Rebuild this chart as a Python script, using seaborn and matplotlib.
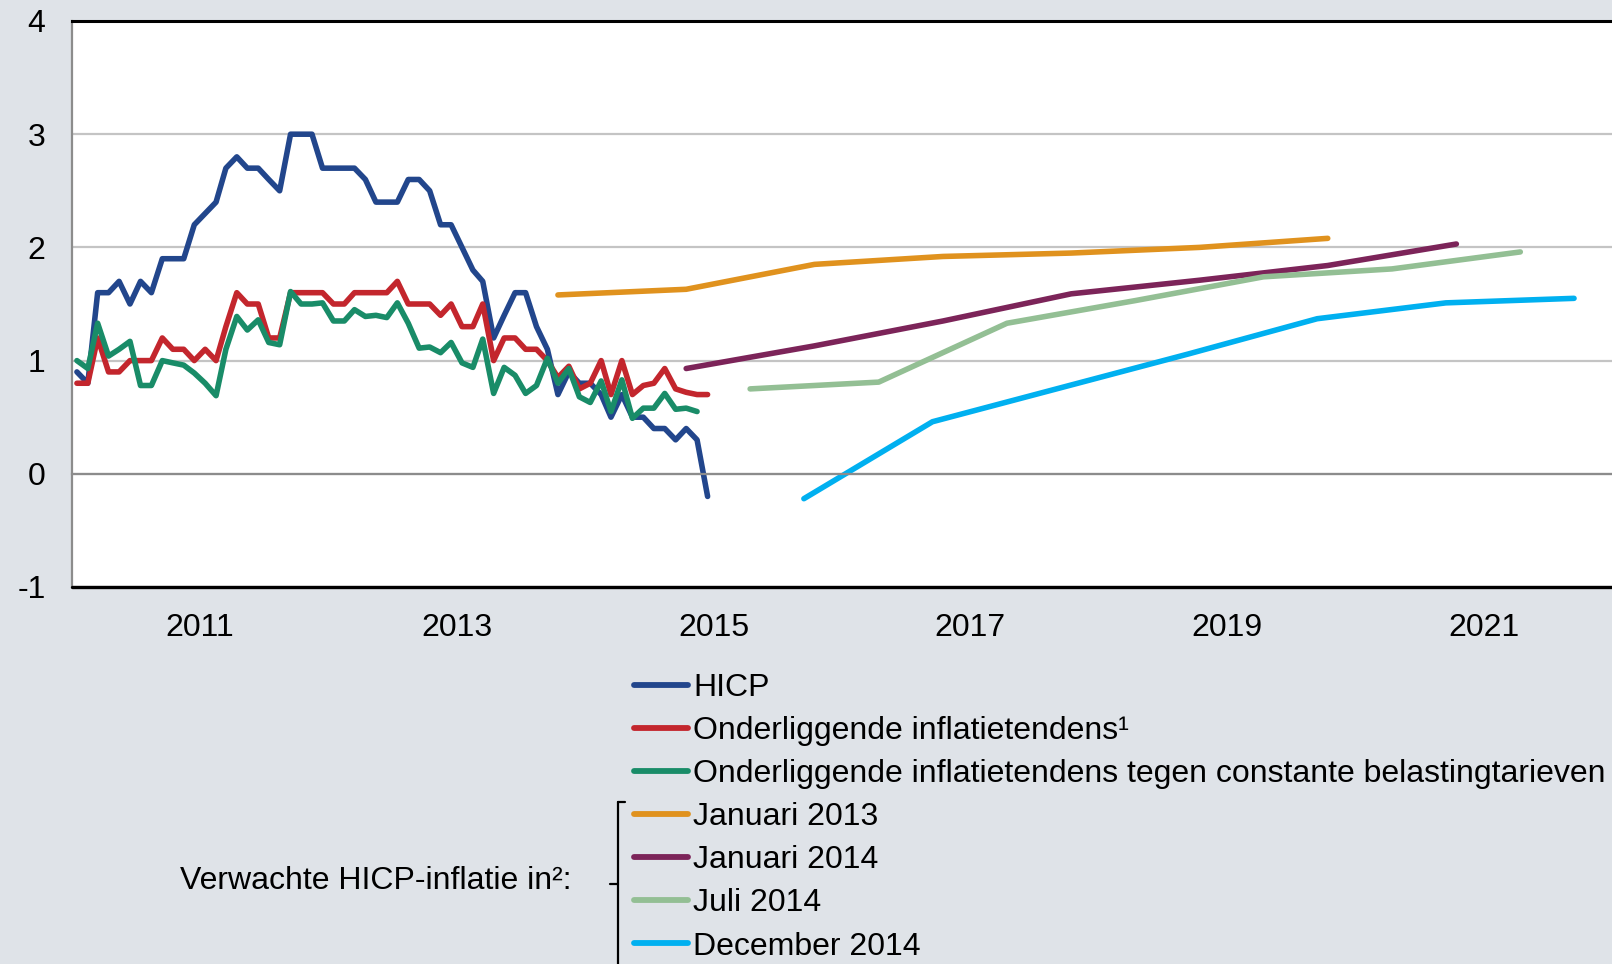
import numpy as np
import pandas as pd
import matplotlib
matplotlib.use("Agg")
import matplotlib.pyplot as plt
import matplotlib.dates as mdates
from matplotlib.lines import Line2D
import seaborn as sns

# ---------------- data ----------------
obs_start, obs_end = "2010-01", "2014-12"

hicp = [0.9, 0.8, 1.6, 1.6, 1.7, 1.5, 1.7, 1.6, 1.9, 1.9, 1.9, 2.2,
        2.3, 2.4, 2.7, 2.8, 2.7, 2.7, 2.6, 2.5, 3.0, 3.0, 3.0, 2.7,
        2.7, 2.7, 2.7, 2.6, 2.4, 2.4, 2.4, 2.6, 2.6, 2.5, 2.2, 2.2,
        2.0, 1.8, 1.7, 1.2, 1.4, 1.6, 1.6, 1.3, 1.1, 0.7, 0.9, 0.8,
        0.8, 0.7, 0.5, 0.7, 0.5, 0.5, 0.4, 0.4, 0.3, 0.4, 0.3, -0.2]

core = [0.8, 0.8, 1.2, 0.9, 0.9, 1.0, 1.0, 1.0, 1.2, 1.1, 1.1, 1.0,
        1.1, 1.0, 1.3, 1.6, 1.5, 1.5, 1.2, 1.2, 1.6, 1.6, 1.6, 1.6,
        1.5, 1.5, 1.6, 1.6, 1.6, 1.6, 1.7, 1.5, 1.5, 1.5, 1.4, 1.5,
        1.3, 1.3, 1.5, 1.0, 1.2, 1.2, 1.1, 1.1, 1.0, 0.85, 0.95, 0.75,
        0.8, 1.0, 0.7, 1.0, 0.7, 0.78, 0.8, 0.93, 0.75, 0.72, 0.7, 0.7]

core_tax = [1.0, 0.93, 1.33, 1.04, 1.1, 1.17, 0.78, 0.78, 1.0, 0.98, 0.96, 0.89,
            0.8, 0.69, 1.1, 1.39, 1.27, 1.36, 1.16, 1.14, 1.61, 1.5, 1.5, 1.51,
            1.35, 1.35, 1.45, 1.39, 1.4, 1.38, 1.51, 1.33, 1.11, 1.12, 1.07, 1.16,
            0.98, 0.94, 1.19, 0.71, 0.94, 0.87, 0.71, 0.78, 1.02, 0.8, 0.93, 0.68,
            0.63, 0.82, 0.55, 0.83, 0.49, 0.58, 0.58, 0.71, 0.57, 0.58, 0.55]

jan13_dates = ["2013-10-15", "2014-10-15", "2015-10-15", "2016-10-15", "2017-10-15", "2018-10-15", "2019-10-15"]
jan13 = [1.58, 1.63, 1.85, 1.92, 1.95, 2.0, 2.08]

jan14_dates = ["2014-10-15", "2015-10-15", "2016-10-15", "2017-10-15", "2018-10-15", "2019-10-15", "2020-10-15"]
jan14 = [0.93, 1.13, 1.35, 1.59, 1.71, 1.84, 2.03]

jul14_dates = ["2015-04-15", "2016-04-15", "2017-04-15", "2018-04-15", "2019-04-15", "2020-04-15", "2021-04-15"]
jul14 = [0.75, 0.81, 1.33, 1.53, 1.74, 1.81, 1.96]

dec14_dates = ["2015-09-15", "2016-09-15", "2017-09-15", "2018-09-15", "2019-09-15", "2020-09-15", "2021-09-15"]
dec14 = [-0.22, 0.46, 0.76, 1.06, 1.37, 1.51, 1.55]

names = ["HICP",
         "Onderliggende inflatietendens\u00b9",
         "Onderliggende inflatietendens tegen constante belastingtarieven",
         "Januari 2013", "Januari 2014", "Juli 2014", "December 2014"]
colors = ["#22468c", "#c3262d", "#198c68", "#e0921e", "#7c2459", "#93bf94", "#00b0f0"]

x_label_years = [2011, 2013, 2015, 2017, 2019, 2021]
y_ticks = [-1, 0, 1, 2, 3, 4]
bracket_text = "Verwachte HICP-inflatie in\u00b2:"

# ---------------- build long table ----------------
months = pd.period_range(obs_start, obs_end, freq="M").to_timestamp() + pd.Timedelta(days=14)
frames = []
for name, vals in zip(names[:3], [hicp, core, core_tax]):
    frames.append(pd.DataFrame({"date": months[:len(vals)], "value": vals, "series": name}))
for name, d, vals in zip(names[3:], [jan13_dates, jan14_dates, jul14_dates, dec14_dates],
                         [jan13, jan14, jul14, dec14]):
    frames.append(pd.DataFrame({"date": pd.to_datetime(d), "value": vals, "series": name}))
df = pd.concat(frames, ignore_index=True)

# ---------------- plot ----------------
sns.set_theme(style="white")
plt.rcParams["font.family"] = ["Liberation Sans", "DejaVu Sans"]
plt.rcParams["text.color"] = "black"
plt.rcParams["xtick.color"] = "black"
plt.rcParams["ytick.color"] = "black"
FS = 23
bg = "#dfe3e8"
W, H = 1612, 964
fig = plt.figure(figsize=(W / 100, H / 100), dpi=100, facecolor=bg)
ax = fig.add_axes([72 / W, 1 - 587 / H, (W - 72) / W, (587 - 21) / H])
ax.set_facecolor("white")

sns.lineplot(data=df, x="date", y="value", hue="series", hue_order=names,
             palette=dict(zip(names, colors)), linewidth=4.0, estimator=None,
             sort=False, ax=ax, legend=True)
for ln in ax.get_lines():
    ln.set_solid_capstyle("round")
    ln.set_solid_joinstyle("round")

ax.set_xlim(pd.Timestamp("2010-01-01"), pd.Timestamp("2022-01-01"))
ax.set_ylim(-1, 4)
ax.set_yticks(y_ticks)
ax.set_yticklabels([str(v) for v in y_ticks])
ax.set_xlabel("")
ax.set_ylabel("")

grid_c = "#c4c4c4"
axis_c = "#8c8c8c"
ax.yaxis.grid(True, color=grid_c, linewidth=1.6)
ax.xaxis.grid(False)
ax.set_axisbelow(True)

ax.spines["right"].set_visible(False)
ax.spines["top"].set_color("black")
ax.spines["top"].set_linewidth(2.2)
ax.spines["left"].set_color(axis_c)
ax.spines["left"].set_linewidth(1.6)
ax.spines["bottom"].set_position(("data", 0))
ax.spines["bottom"].set_color(axis_c)
ax.spines["bottom"].set_linewidth(1.6)
ax.axhline(-1, color="black", linewidth=2.4, clip_on=False, zorder=5)

ax.xaxis.set_major_locator(mdates.YearLocator(1))
ax.tick_params(axis="x", which="both", direction="out", length=8, width=1.6,
               color=axis_c, labelbottom=False)
ax.tick_params(axis="y", direction="out", length=8, width=1.6, color=axis_c,
               labelsize=FS, pad=11, labelcolor="black")

sec = ax.secondary_xaxis(0.0)
sec.set_xticks(mdates.date2num([pd.Timestamp(f"{y}-01-01") for y in x_label_years]))
sec.set_xticklabels([str(y) for y in x_label_years])
sec.tick_params(axis="x", length=0, labelsize=FS, pad=19, labelcolor="black")
sec.spines["bottom"].set_visible(False)

# legend
handles, labels = ax.get_legend_handles_labels()
ax.get_legend().remove()
leg = fig.legend(handles, labels, loc="upper left",
                 bbox_to_anchor=(634 / W, 1 - 673 / H), bbox_transform=fig.transFigure,
                 frameon=False, fontsize=FS, handlelength=1.7, handletextpad=0.15,
                 labelspacing=0.41, borderpad=0, borderaxespad=0)
for t in leg.get_texts():
    t.set_color("black")
for h in leg.legend_handles:
    h.set_linewidth(4.2)
    h.set_solid_capstyle("round")

# bracket for forecast entries
bx = 618 / W
fig.add_artist(Line2D([bx, bx], [1 - 802 / H, 0], transform=fig.transFigure,
                      color="black", linewidth=1.6))
fig.add_artist(Line2D([bx, 625 / W], [1 - 802 / H, 1 - 802 / H], transform=fig.transFigure,
                      color="black", linewidth=1.6))
fig.add_artist(Line2D([610 / W, bx], [1 - 884 / H, 1 - 884 / H], transform=fig.transFigure,
                      color="black", linewidth=1.6))
fig.text(572 / W, 1 - 881 / H, bracket_text, ha="right", va="center", fontsize=FS,
         color="black")

fig.savefig("out.png", dpi=100, facecolor=bg)
